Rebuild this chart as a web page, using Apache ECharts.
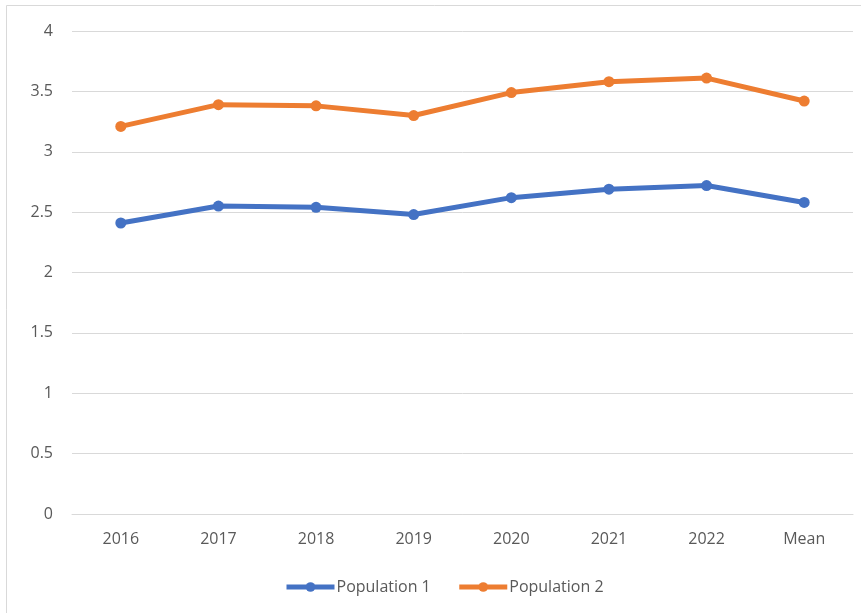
<!DOCTYPE html>
<html>
<head>
<meta charset="utf-8">
<script src="https://cdn.jsdelivr.net/npm/echarts@6/dist/echarts.min.js"></script>
<style>
html,body{margin:0;padding:0;background:#fff;}
#chart{width:861px;height:613px;}
</style>
</head>
<body>
<div id="chart"></div>
<script>
// Category labels along the x axis
const categories = ['2016', '2017', '2018', '2019', '2020', '2021', '2022', 'Mean'];
// Yearly scores for each population, plus their mean
const population1 = [2.41, 2.55, 2.54, 2.48, 2.62, 2.69, 2.72, 2.58];
const population2 = [3.21, 3.39, 3.38, 3.30, 3.49, 3.58, 3.61, 3.42];
const seriesNames = ['Population 1', 'Population 2'];

const labelFont = '"Open Sans", "Noto Sans", sans-serif';
const chart = echarts.init(document.getElementById('chart'), null, { renderer: 'canvas' });

chart.setOption({
  animation: false,
  backgroundColor: '#ffffff',
  color: ['#4472C4', '#ED7D31'],
  graphic: [{
    type: 'rect',
    shape: { x: 6.5, y: 5.5, width: 900, height: 700 },
    style: { fill: 'none', stroke: '#d9d9d9', lineWidth: 1 },
    silent: true
  }],
  grid: { left: 72, right: 8, top: 31, bottom: 99, containLabel: false },
  legend: {
    data: seriesNames,
    left: 279,
    top: 574,
    itemWidth: 48,
    itemHeight: 12,
    itemGap: 26,
    lineStyle: { width: 5 },
    textStyle: { color: '#595959', fontSize: 16, fontFamily: labelFont, padding: [0, 0, 0, -3] }
  },
  xAxis: {
    type: 'category',
    data: categories,
    boundaryGap: true,
    axisLine: { show: true, lineStyle: { color: '#d9d9d9', width: 1 } },
    axisTick: { show: false },
    axisLabel: { color: '#595959', fontSize: 16, fontFamily: labelFont, margin: 17 }
  },
  yAxis: {
    type: 'value',
    min: 0,
    max: 4,
    interval: 0.5,
    axisLine: { show: false },
    axisTick: { show: false },
    splitLine: { lineStyle: { color: '#d9d9d9', width: 1 } },
    axisLabel: { color: '#595959', fontSize: 16, fontFamily: labelFont, margin: 19 }
  },
  series: [
    {
      name: seriesNames[0],
      type: 'line',
      data: population1,
      symbol: 'circle',
      symbolSize: 11,
      lineStyle: { width: 5 },
      itemStyle: { color: '#4472C4' }
    },
    {
      name: seriesNames[1],
      type: 'line',
      data: population2,
      symbol: 'circle',
      symbolSize: 11,
      lineStyle: { width: 5 },
      itemStyle: { color: '#ED7D31' }
    }
  ]
});
</script>
</body>
</html>
